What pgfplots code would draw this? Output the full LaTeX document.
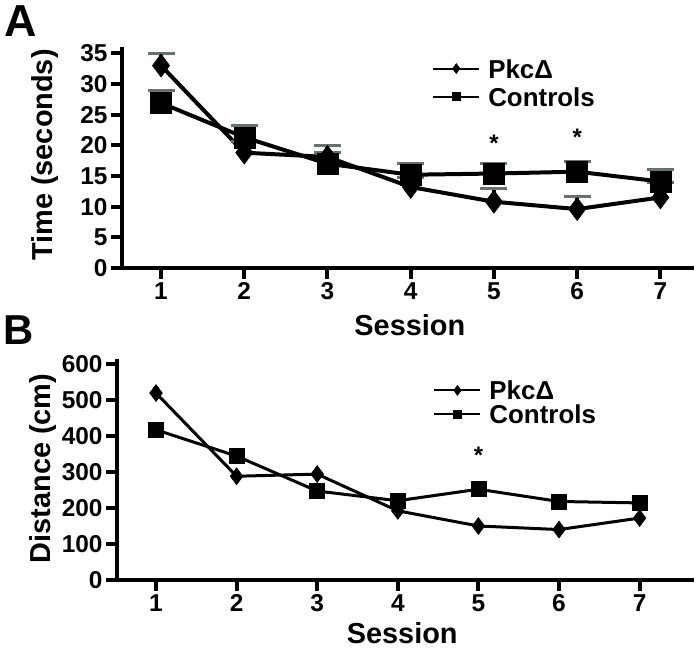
\documentclass[border=0pt]{standalone}
\usepackage{pgfplots}
\pgfplotsset{compat=1.18}
\usepackage{fontspec}
\setmainfont{Liberation Sans}
\definecolor{capgray}{RGB}{105,112,112}
\pgfplotstableread{
x y e
1 33.0 2.0
2 18.8 1.8
3 18.1 1.9
4 13.2 1.5
5 10.8 2.1
6 9.6 2.1
7 11.5 2.4
}\pkcA
\pgfplotstableread{
x y e
1 26.9 2.1
2 21.3 1.9
3 17.0 1.8
4 15.2 1.8
5 15.4 1.7
6 15.7 1.7
7 14.1 1.9
}\ctlA
\pgfplotstableread{
x y
1 519
2 288
3 294
4 192
5 150
6 140
7 172
}\pkcB
\pgfplotstableread{
x y
1 417
2 344
3 247
4 220
5 252
6 218
7 214
}\ctlB
\pgfplotsset{
  panel/.style={
    scale only axis,
    axis lines=left,
    axis line style={-, line width=4bp, line cap=rect},
    major tick length=11bp,
    tick align=outside,
    tick style={line width=4bp, black},
    xtick={1,...,7},
    /pgf/number format/assume math mode=true,
    ticklabel style={font=\fontsize{24.5}{24.5}\selectfont\bfseries},
    label style={font=\fontsize{29}{29}\selectfont\bfseries},
    legend style={draw=none, fill=none, font=\fontsize{26}{26}\selectfont\bfseries,
      anchor=north west, inner sep=0pt, row sep=9bp, column sep=8bp,
      nodes={inner sep=0pt, text height=19bp, text depth=0bp}},
    legend cell align=left,
    legend image code/.code={\draw[mark repeat=2, mark phase=2, #1] plot coordinates {(0bp,0bp) (23bp,0bp) (46bp,0bp)};},
  },
}
\begin{document}
\begin{tikzpicture}
\path[use as bounding box] (0bp,0bp) rectangle (696bp,649bp);
\node[anchor=base west, inner sep=0pt, font=\fontsize{45}{45}\selectfont\bfseries] at (4bp,612bp) {A};
\node[anchor=base west, inner sep=0pt, font=\fontsize{42}{42}\selectfont\bfseries] at (3bp,304bp) {B};
% Panel A
\begin{axis}[panel,
  at={(122bp,381bp)}, anchor=south west,
  width=570bp, height=219bp,
  xmin=0.531, xmax=7.38, ymin=0, ymax=35.7,
  ytick={0,5,...,35},
  xlabel={Session}, ylabel={Time (seconds)},
  xlabel style={at={(axis description cs:0.505,-0.306)}, anchor=base},
  ylabel style={at={(axis description cs:-0.1228,0.516)}, anchor=base, rotate=0},
  legend style={at={(axis description cs:0.544,0.955)}},
]
\addlegendimage{black, line width=2bp, mark=diamond*, mark size=5bp, mark options={line width=0.5bp}}
\addlegendentry{PkcΔ}
\addlegendimage{black, line width=2bp, mark=square*, mark size=4bp, mark options={line width=0.5bp}}
\addlegendentry{Controls}
\addplot[forget plot, black, line width=4bp, mark=diamond*, mark size=11.5bp, mark options={line width=0.5bp},
  error bars/.cd, y dir=plus, y explicit, error bar style={line width=4bp, black},
  error mark=|, error mark options={capgray, line width=3bp, mark size=13.5bp}]
  table[x=x, y=y, y error=e] {\pkcA};
\addplot[forget plot, black, line width=4bp, mark=square*, mark size=10.5bp, mark options={line width=0.5bp},
  error bars/.cd, y dir=plus, y explicit, error bar style={line width=4bp, black},
  error mark=|, error mark options={capgray, line width=3bp, mark size=13.5bp}]
  table[x=x, y=y, y error=e] {\ctlA};
\node[inner sep=0pt, font=\fontsize{24}{24}\selectfont\bfseries] at (axis cs:5,20.4) {*};
\node[inner sep=0pt, font=\fontsize{24}{24}\selectfont\bfseries] at (axis cs:6,21.3) {*};
\end{axis}
% Panel B
\begin{axis}[panel,
  at={(117bp,69bp)}, anchor=south west,
  width=575bp, height=219bp,
  xmin=0.516, xmax=7.65, ymin=0, ymax=608,
  ytick={0,100,...,600},
  xlabel={Session}, ylabel={Distance (cm)},
  xlabel style={at={(axis description cs:0.496,-0.29)}, anchor=base},
  ylabel style={at={(axis description cs:-0.1165,0.509)}, anchor=base, rotate=0},
  legend style={at={(axis description cs:0.55,0.91)}, row sep=5bp},
]
\addlegendimage{black, line width=2bp, mark=diamond*, mark size=5bp, mark options={line width=0.5bp}}
\addlegendentry{PkcΔ}
\addlegendimage{black, line width=2bp, mark=square*, mark size=4bp, mark options={line width=0.5bp}}
\addlegendentry{Controls}
\addplot[forget plot, black, line width=3bp, mark=diamond*, mark size=8.5bp, mark options={line width=0.5bp}]
  table[x=x, y=y] {\pkcB};
\addplot[forget plot, black, line width=3bp, mark=square*, mark size=7.5bp, mark options={line width=0.5bp}]
  table[x=x, y=y] {\ctlB};
\node[inner sep=0pt, font=\fontsize{24}{24}\selectfont\bfseries] at (axis cs:5,345) {*};
\end{axis}
\end{tikzpicture}
\end{document}
